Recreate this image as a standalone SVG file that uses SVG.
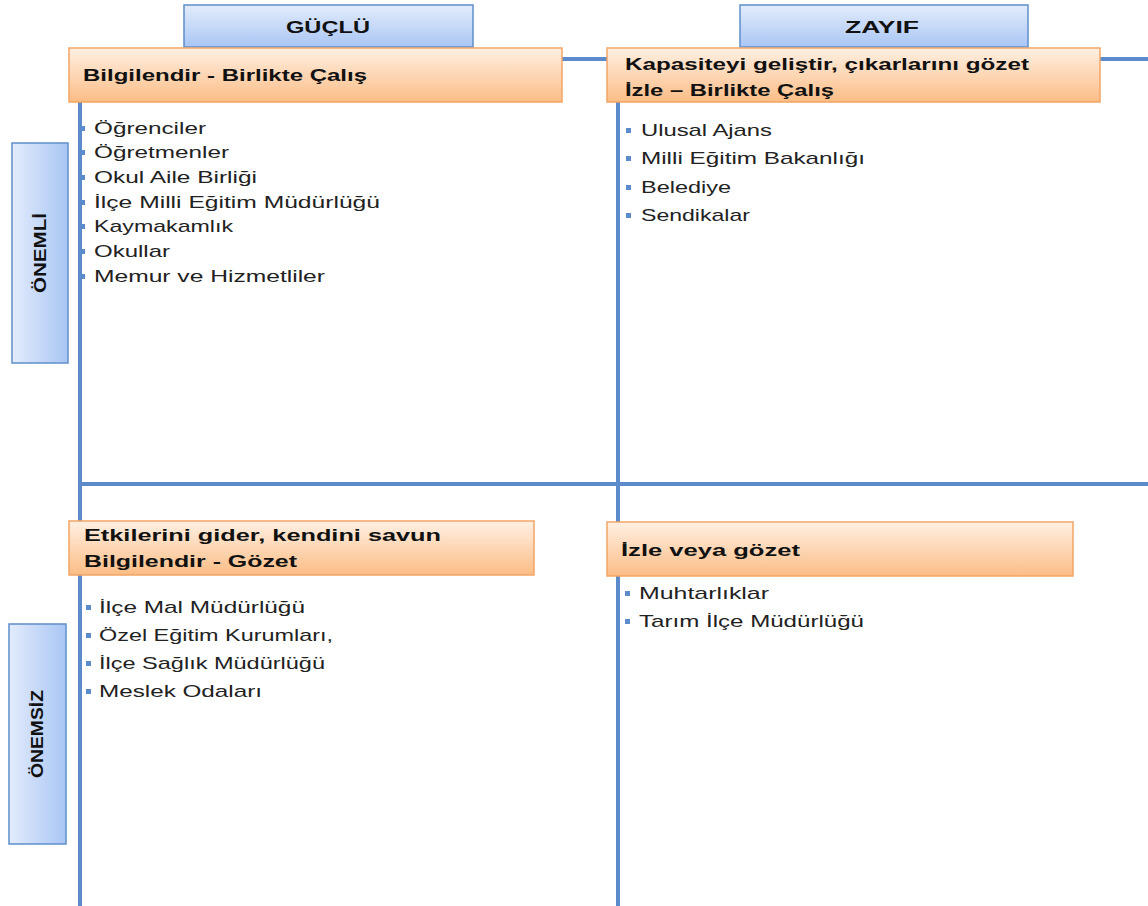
<svg xmlns="http://www.w3.org/2000/svg" width="1148" height="906" viewBox="0 0 1148 906">
<defs>
<linearGradient id="gBlue" x1="0" y1="0" x2="0" y2="1"><stop offset="0" stop-color="#e3ecfc"/><stop offset="1" stop-color="#a9c6f4"/></linearGradient>
<linearGradient id="gBlueH" x1="0" y1="0" x2="1" y2="0"><stop offset="0" stop-color="#e3ecfc"/><stop offset="1" stop-color="#a9c6f4"/></linearGradient>
<linearGradient id="gOr" x1="0" y1="0" x2="0" y2="1"><stop offset="0" stop-color="#fff0e3"/><stop offset="1" stop-color="#fbbd86"/></linearGradient>
<style>
.line{stroke:#5b8bcb;stroke-width:4;fill:none}
.hb{fill:url(#gBlue);stroke:#5f8fcc;stroke-width:1.5}
.vb{fill:url(#gBlueH);stroke:#5f8fcc;stroke-width:1.5}
.ob{fill:url(#gOr);stroke:#f3a565;stroke-width:1.5}
.t{font-family:"Liberation Sans",Arial,sans-serif;font-weight:bold;font-size:17px;fill:#111}
.li{font-family:"Liberation Sans",Arial,sans-serif;font-size:17px;fill:#222}
.bul{fill:#5b8bcb}
</style>
</defs>
<g id="connectors">
<line class="line" x1="80" y1="59" x2="1148" y2="59"/>
<line class="line" x1="80" y1="90" x2="80" y2="906"/>
<line class="line" x1="618" y1="90" x2="618" y2="906"/>
<line class="line" x1="80" y1="484" x2="1148" y2="484"/>
</g>
<g id="guclu">
<rect class="hb" x="184" y="5" width="289" height="42"/>
<text class="t" x="328" y="33" text-anchor="middle" textLength="84" lengthAdjust="spacingAndGlyphs">GÜÇLÜ</text>
</g>
<g id="zayif">
<rect class="hb" x="740" y="5" width="288" height="42"/>
<text class="t" x="882" y="33" text-anchor="middle" textLength="74" lengthAdjust="spacingAndGlyphs">ZAYIF</text>
</g>
<g id="onemli">
<rect class="vb" x="12" y="143" width="56" height="220"/>
<text class="t" transform="translate(46,253) rotate(-90)" text-anchor="middle" textLength="80" lengthAdjust="spacingAndGlyphs">ÖNEMLİ</text>
</g>
<g id="onemsiz">
<rect class="vb" x="9" y="624" width="57" height="220"/>
<text class="t" transform="translate(43,734) rotate(-90)" text-anchor="middle" textLength="88" lengthAdjust="spacingAndGlyphs">ÖNEMSİZ</text>
</g>
<g id="q1">
<rect class="ob" x="69" y="48" width="493" height="54"/>
<text class="t" x="83" y="81" textLength="284" lengthAdjust="spacingAndGlyphs">Bilgilendir - Birlikte Çalış</text>
<g class="bul"><rect x="81" y="126" width="4" height="5"/><rect x="81" y="150" width="4" height="5"/><rect x="81" y="175" width="4" height="5"/><rect x="81" y="200" width="4" height="5"/><rect x="81" y="224" width="4" height="5"/><rect x="81" y="249" width="4" height="5"/><rect x="81" y="274" width="4" height="5"/></g>
<text class="li" x="94" y="134" textLength="112" lengthAdjust="spacingAndGlyphs">Öğrenciler</text>
<text class="li" x="94" y="158" textLength="135" lengthAdjust="spacingAndGlyphs">Öğretmenler</text>
<text class="li" x="94" y="183" textLength="163" lengthAdjust="spacingAndGlyphs">Okul Aile Birliği</text>
<text class="li" x="94" y="208" textLength="286" lengthAdjust="spacingAndGlyphs">İlçe Milli Eğitim Müdürlüğü</text>
<text class="li" x="94" y="232" textLength="139" lengthAdjust="spacingAndGlyphs">Kaymakamlık</text>
<text class="li" x="94" y="257" textLength="76" lengthAdjust="spacingAndGlyphs">Okullar</text>
<text class="li" x="94" y="282" textLength="231" lengthAdjust="spacingAndGlyphs">Memur  ve Hizmetliler</text>
</g>
<g id="q2">
<rect class="ob" x="607" y="48" width="493" height="54"/>
<text class="t" x="625" y="70" textLength="404" lengthAdjust="spacingAndGlyphs">Kapasiteyi geliştir, çıkarlarını  gözet</text>
<text class="t" x="625" y="96" textLength="209" lengthAdjust="spacingAndGlyphs">İzle – Birlikte Çalış</text>
<g class="bul"><rect x="626" y="128" width="5" height="5"/><rect x="626" y="156" width="5" height="5"/><rect x="626" y="185" width="5" height="5"/><rect x="626" y="213" width="5" height="5"/></g>
<text class="li" x="641" y="136" textLength="131" lengthAdjust="spacingAndGlyphs">Ulusal Ajans</text>
<text class="li" x="641" y="164" textLength="224" lengthAdjust="spacingAndGlyphs">Milli Eğitim Bakanlığı</text>
<text class="li" x="641" y="193" textLength="90" lengthAdjust="spacingAndGlyphs">Belediye</text>
<text class="li" x="641" y="221" textLength="109" lengthAdjust="spacingAndGlyphs">Sendikalar</text>
</g>
<g id="q3">
<rect class="ob" x="69" y="521" width="465" height="54"/>
<text class="t" x="84" y="541" textLength="357" lengthAdjust="spacingAndGlyphs">Etkilerini gider, kendini savun</text>
<text class="t" x="84" y="567" textLength="213" lengthAdjust="spacingAndGlyphs">Bilgilendir - Gözet</text>
<g class="bul"><rect x="86" y="605" width="5" height="5"/><rect x="86" y="633" width="5" height="5"/><rect x="86" y="661" width="5" height="5"/><rect x="86" y="689" width="5" height="5"/></g>
<text class="li" x="99" y="613" textLength="206" lengthAdjust="spacingAndGlyphs">İlçe Mal Müdürlüğü</text>
<text class="li" x="99" y="641" textLength="234" lengthAdjust="spacingAndGlyphs">Özel Eğitim Kurumları,</text>
<text class="li" x="99" y="669" textLength="226" lengthAdjust="spacingAndGlyphs">İlçe Sağlık Müdürlüğü</text>
<text class="li" x="99" y="697" textLength="163" lengthAdjust="spacingAndGlyphs">Meslek Odaları</text>
</g>
<g id="q4">
<rect class="ob" x="607" y="522" width="466" height="54"/>
<text class="t" x="621" y="556" textLength="179" lengthAdjust="spacingAndGlyphs">İzle veya gözet</text>
<g class="bul"><rect x="625" y="591" width="5" height="5"/><rect x="625" y="619" width="5" height="5"/></g>
<text class="li" x="639" y="599" textLength="130" lengthAdjust="spacingAndGlyphs">Muhtarlıklar</text>
<text class="li" x="639" y="627" textLength="225" lengthAdjust="spacingAndGlyphs">Tarım İlçe Müdürlüğü</text>
</g>
</svg>
